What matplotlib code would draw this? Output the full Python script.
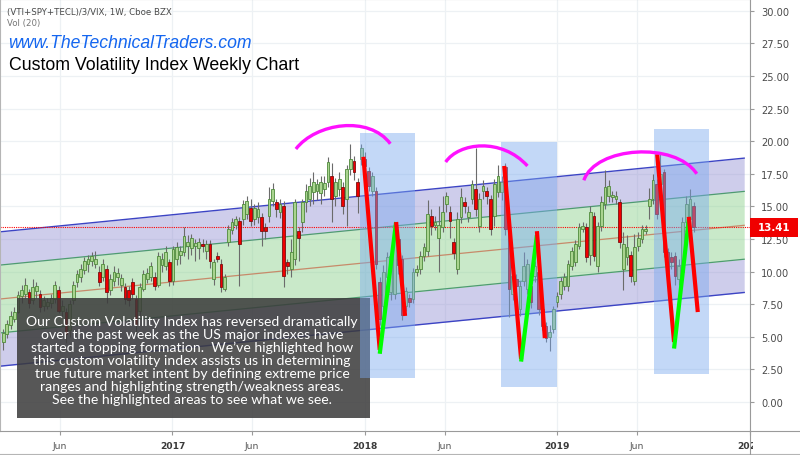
import matplotlib
matplotlib.use("Agg")
import numpy as np
import pandas as pd
import matplotlib.pyplot as plt
import matplotlib.dates as mdates
from matplotlib.patches import Rectangle, PathPatch
from matplotlib.path import Path
from matplotlib.transforms import Bbox, TransformedBbox

# Weekly candles of (VTI+SPY+TECL)/3/VIX
first_week = '2016-02-15'
opens = [4.6, 5.2, 5.9, 6.4, 6.9, 8.1, 8.3, 8.4, 7.8, 8.5,
         8.3, 7.4, 7.4, 7.6, 7.9, 8.6, 7.0, 6.9, 5.5, 7.8,
         9.2, 9.6, 10.1, 10.6, 10.8, 10.6, 10.0, 9.6, 10.2, 8.6,
         9.3, 9.6, 9.0, 8.8, 8.6, 9.2, 7.9, 7.0, 8.7, 9.4,
         9.6, 9.6, 9.0, 10.5, 10.4, 10.7, 9.3, 11.0, 11.3, 11.5,
         12.0, 11.8, 12.0, 11.8, 12.1, 11.6, 12.1, 9.4, 11.2, 10.6,
         8.7, 12.3, 13.2, 13.6, 13.9, 14.0, 14.4, 14.9, 14.0, 14.2,
         14.2, 13.4, 14.3, 15.4, 15.3, 14.6, 15.0, 10.7, 10.2, 11.0,
         13.1, 13.8, 15.3, 15.6, 16.1, 16.2, 16.0, 16.3, 16.9, 17.3,
         15.8, 16.3, 16.5, 15.6, 17.9, 18.5, 16.9, 18.6, 18.6, 17.7,
         16.2, 16.2, 9.2, 7.4, 9.6, 8.4, 8.3, 12.5, 11.0, 7.4,
         8.0, 7.9, 10.0, 10.2, 11.2, 11.6, 14.3, 13.6, 12.6, 13.4,
         15.2, 14.6, 12.3, 10.2, 14.2, 15.3, 14.2, 15.6, 16.3, 13.5,
         16.2, 16.2, 15.6, 14.3, 16.1, 16.1, 18.0, 13.0, 8.3, 9.4,
         7.1, 9.3, 8.7, 8.9, 9.7, 10.0, 7.1, 5.8, 5.0, 5.6,
         7.7, 8.3, 8.9, 8.9, 10.4, 10.7, 12.0, 13.3, 13.4, 11.3,
         14.3, 10.4, 13.5, 15.2, 15.8, 15.7, 15.6, 15.3, 10.2, 11.1,
         11.3, 9.3, 12.0, 12.5, 13.1, 15.0, 15.6, 16.7, 16.7, 17.6,
         11.5, 11.1, 11.2, 9.4, 10.0, 13.8, 14.0, 15.0]
highs = [5.6, 6.3, 7.0, 7.3, 8.5, 9.0, 9.5, 8.7, 9.4, 9.2,
         8.6, 8.1, 8.0, 8.3, 9.3, 8.9, 7.8, 7.2, 7.8, 9.3,
         10.1, 10.6, 11.1, 11.3, 11.5, 11.6, 10.4, 11.0, 10.5, 9.8,
         10.4, 10.3, 9.8, 9.1, 8.9, 9.5, 8.2, 9.1, 10.1, 10.3,
         10.7, 10.0, 11.5, 11.4, 12.0, 11.0, 12.0, 12.3, 12.0, 13.4,
         12.8, 12.9, 12.5, 12.6, 12.5, 12.4, 12.4, 11.0, 11.5, 11.0,
         9.8, 13.6, 14.1, 14.3, 14.2, 15.5, 15.8, 15.6, 15.2, 15.3,
         14.5, 13.7, 16.5, 16.8, 15.6, 15.6, 15.4, 11.0, 12.5, 15.6,
         13.4, 15.6, 16.7, 17.2, 17.6, 17.1, 17.3, 17.3, 18.8, 18.3,
         17.2, 17.6, 16.9, 18.2, 19.8, 18.9, 17.2, 19.8, 19.2, 18.0,
         17.6, 16.5, 9.6, 10.5, 11.5, 11.6, 13.5, 13.0, 11.3, 8.8,
         8.3, 10.3, 10.5, 11.6, 12.2, 15.5, 14.8, 14.3, 15.0, 15.8,
         16.1, 15.0, 12.6, 14.6, 16.4, 15.7, 15.0, 17.0, 19.5, 16.0,
         17.0, 16.5, 15.9, 17.1, 18.2, 17.3, 18.3, 13.3, 10.2, 9.8,
         9.3, 11.5, 11.0, 9.3, 10.8, 10.4, 7.4, 6.1, 5.9, 7.4,
         8.4, 9.6, 9.9, 10.9, 11.9, 12.4, 13.7, 13.8, 13.7, 15.0,
         14.6, 13.8, 15.8, 17.8, 17.0, 16.2, 16.2, 15.6, 13.0, 12.8,
         11.6, 12.9, 13.0, 13.6, 13.6, 16.4, 17.5, 17.1, 19.0, 17.9,
         11.8, 11.5, 11.5, 11.0, 14.2, 15.8, 16.3, 15.3]
lows = [4.0, 4.9, 5.6, 6.1, 6.8, 7.6, 8.0, 7.2, 7.5, 8.0,
        6.9, 7.0, 7.1, 7.2, 7.6, 6.8, 6.5, 4.5, 5.0, 7.5,
        8.8, 9.2, 9.8, 10.0, 10.4, 10.3, 8.9, 9.3, 7.6, 8.2,
        8.9, 9.0, 8.5, 7.5, 7.4, 7.9, 5.2, 6.6, 8.5, 9.1,
        9.3, 8.6, 8.8, 10.0, 10.1, 8.9, 9.0, 10.5, 10.6, 11.2,
        11.0, 11.3, 10.8, 11.0, 11.5, 11.0, 10.3, 9.0, 10.7, 8.4,
        8.5, 12.0, 12.9, 13.3, 8.9, 13.6, 14.0, 13.5, 13.6, 13.7,
        12.0, 12.5, 13.8, 15.0, 14.2, 14.1, 8.8, 9.8, 9.6, 10.5,
        10.8, 13.0, 14.6, 15.0, 15.2, 15.5, 15.2, 15.8, 16.5, 13.8,
        15.0, 15.8, 14.4, 13.5, 17.4, 17.0, 14.5, 18.2, 17.7, 16.2,
        15.8, 10.2, 5.9, 6.8, 9.2, 7.8, 7.9, 9.8, 6.3, 7.0,
        7.3, 7.6, 9.7, 9.8, 10.8, 11.2, 12.8, 13.2, 10.0, 13.0,
        14.6, 12.6, 11.0, 9.8, 13.7, 14.5, 13.8, 15.2, 14.3, 13.0,
        15.6, 15.2, 12.8, 13.5, 15.7, 15.5, 12.8, 6.5, 7.8, 8.3,
        6.6, 8.9, 8.3, 7.2, 9.2, 6.7, 5.5, 4.6, 3.9, 5.3,
        7.3, 7.9, 8.6, 8.5, 10.1, 10.4, 11.7, 13.0, 10.7, 10.5,
        10.8, 10.0, 13.1, 14.8, 15.3, 15.3, 15.2, 11.8, 8.6, 10.5,
        9.2, 9.0, 11.6, 12.2, 12.9, 14.0, 15.2, 14.0, 16.3, 11.1,
        7.9, 10.2, 9.0, 9.0, 9.5, 13.4, 13.5, 13.0]
closes = [5.3, 6.0, 6.6, 6.9, 8.2, 8.6, 9.0, 7.6, 8.8, 8.9,
          7.3, 7.8, 7.7, 8.0, 9.0, 7.0, 7.4, 5.2, 7.5, 9.0,
          9.8, 10.2, 10.8, 11.0, 11.2, 11.0, 9.2, 10.6, 8.4, 9.4,
          10.0, 9.9, 9.5, 7.9, 7.8, 8.3, 5.9, 8.8, 9.8, 9.9,
          10.4, 8.9, 11.2, 11.0, 11.5, 9.3, 11.7, 11.9, 11.6, 12.7,
          12.3, 12.6, 12.2, 12.3, 12.0, 12.1, 10.8, 10.7, 11.0, 8.8,
          9.6, 13.3, 13.8, 14.0, 12.1, 15.2, 15.4, 13.9, 14.9, 14.8,
          13.1, 13.1, 15.6, 16.3, 14.8, 15.2, 9.7, 10.4, 11.5, 15.3,
          12.6, 15.3, 16.2, 16.6, 16.9, 16.7, 16.9, 16.8, 18.4, 15.6,
          16.9, 17.1, 15.0, 17.9, 18.6, 17.6, 15.8, 19.5, 18.1, 16.6,
          17.3, 10.6, 6.4, 10.0, 11.1, 11.2, 13.0, 10.5, 6.7, 8.5,
          7.7, 10.0, 10.2, 11.2, 11.9, 14.4, 13.5, 13.8, 13.6, 14.6,
          15.8, 13.9, 11.4, 14.0, 15.7, 15.0, 14.6, 16.7, 14.8, 15.6,
          16.6, 15.8, 13.3, 16.7, 17.3, 16.9, 13.3, 8.7, 9.7, 8.9,
          8.9, 10.4, 10.6, 7.7, 10.4, 7.1, 5.8, 4.9, 5.4, 7.1,
          8.1, 9.3, 9.6, 10.6, 11.6, 12.1, 13.4, 13.5, 11.1, 14.6,
          11.2, 13.5, 15.3, 16.5, 16.6, 15.9, 15.8, 12.3, 12.1, 11.9,
          9.7, 11.9, 12.6, 13.3, 13.3, 15.6, 17.0, 14.4, 17.5, 11.5,
          10.0, 10.7, 9.7, 10.4, 13.8, 15.2, 15.6, 13.41]
last_price = 13.41

# Regression channel: centre line at both chart edges, band offsets
channel_dates = ['2016-02-09', '2019-12-21']
channel_mid = [7.9, 13.55]
inner_offset = 2.6
outer_offset = 5.15

# Highlighted reversal areas (start, end, low, high)
zones = [('2017-12-23', '2018-04-06', 1.84, 20.6),
         ('2018-09-16', '2018-12-31', 1.15, 19.9),
         ('2019-07-03', '2019-10-15', 2.15, 20.9)]

# Hand drawn swings: (dates, values, colour)
swings = [(['2017-12-29', '2018-01-29'], [18.8, 4.0], 'red'),
          (['2018-01-29', '2018-03-01'], [3.7, 13.8], 'lime'),
          (['2018-03-01', '2018-03-18'], [13.8, 6.6], 'red'),
          (['2018-09-22', '2018-10-24'], [18.1, 3.3], 'red'),
          (['2018-10-24', '2018-11-23'], [3.1, 12.8], 'lime'),
          (['2018-11-23', '2018-12-08'], [13.1, 4.9], 'red'),
          (['2019-07-09', '2019-08-10'], [19.0, 4.6], 'red'),
          (['2019-08-10', '2019-09-07'], [4.1, 14.0], 'lime'),
          (['2019-09-07', '2019-09-24'], [14.2, 6.9], 'red')]

# Topping arcs as cubic bezier control points
arcs = [(['2017-08-23', '2017-09-30', '2018-01-09', '2018-02-18'], [19.4, 21.4, 22.0, 19.8]),
        (['2018-06-03', '2018-06-28', '2018-09-17', '2018-11-05'], [18.4, 19.9, 20.3, 18.1]),
        (['2019-02-20', '2019-03-14', '2019-08-12', '2019-09-22'], [17.0, 19.6, 20.0, 17.5])]

tick_dates = ['2016-06-01', '2017-01-01', '2017-06-01', '2018-01-01',
              '2018-06-01', '2019-01-01', '2019-06-01', '2020-01-01']
tick_labels = ['Jun', '2017', 'Jun', '2018', 'Jun', '2019', 'Jun', '2020']

note = ("Our Custom Volatility Index has reversed dramatically\n"
        "over the past week as the US major indexes have\n"
        "started a topping formation.  We\u2019ve highlighted how\n"
        "this custom volatility index assists us in determining\n"
        "true future market intent by defining extreme price\n"
        "ranges and highlighting strength/weakness areas.\n"
        "See the highlighted areas to see what we see.")


def dnum(values):
    return mdates.date2num(pd.to_datetime(values))


fig = plt.figure(figsize=(8, 4.56), dpi=100)
ax = fig.add_axes([0.0, 24 / 456, 750 / 800, 432 / 456])
ax.set_facecolor('white')

x0, x1 = dnum(channel_dates)
ax.set_xlim(x0, x1)
ax.set_ylim(-2.22, 30.9)

# grid
yticks = np.arange(0, 30.01, 2.5)
for v in yticks:
    ax.axhline(v, color='#edf1f4', lw=0.9, zorder=0)
for d in dnum(tick_dates):
    ax.axvline(d, color='#edf1f4', lw=0.9, zorder=0)

# channel bands
cx = np.array([x0, x1])
mid = np.array(channel_mid)
ax.fill_between(cx, mid + inner_offset, mid + outer_offset, color='#8c88d0', alpha=0.42, lw=0, zorder=1)
ax.fill_between(cx, mid - outer_offset, mid - inner_offset, color='#8c88d0', alpha=0.42, lw=0, zorder=1)
ax.fill_between(cx, mid - inner_offset, mid + inner_offset, color='#88d088', alpha=0.45, lw=0, zorder=1)
ax.plot(cx, mid + outer_offset, color='#3c44c4', lw=1.0, zorder=2)
ax.plot(cx, mid - outer_offset, color='#3c44c4', lw=1.0, zorder=2)
ax.plot(cx, mid + inner_offset, color='#4e9c70', lw=0.9, zorder=2)
ax.plot(cx, mid - inner_offset, color='#4e9c70', lw=0.9, zorder=2)
ax.plot(cx, mid, color='#c78a6a', lw=0.9, zorder=2)

# last price line
ax.axhline(last_price, color='red', lw=0.8, ls=(0, (1, 1)), zorder=2)

# candles
weeks = pd.date_range(first_week, periods=len(closes), freq='7D')
xs = mdates.date2num(weeks)
o = np.array(opens)
c = np.array(closes)
up = c >= o
ax.vlines(xs, lows, highs, color='#6b6b6b', lw=0.8, zorder=3)
body_bottom = np.minimum(o, c)
body_h = np.maximum(np.abs(c - o), 0.15)
ax.bar(xs[up], body_h[up], bottom=body_bottom[up], width=5.2,
       color='#a9d48f', edgecolor='#4f8a3b', lw=0.6, zorder=3)
ax.bar(xs[~up], body_h[~up], bottom=body_bottom[~up], width=5.2,
       color='#f00000', edgecolor='#7a1010', lw=0.6, zorder=3)

# text box
ax.add_patch(Rectangle((17 / 750, 13 / 432), 353 / 750, 120 / 432, transform=ax.transAxes,
                       facecolor='#3a3a3a', alpha=0.85, lw=0, zorder=4))
ax.text(192 / 750, 71 / 432, note, transform=ax.transAxes, ha='center', va='center',
        color='white', fontsize=10.1, family='Lato', linespacing=1.1, zorder=8)

# highlighted zones
for start, end, lo, hi in zones:
    s, e = dnum([start, end])
    ax.add_patch(Rectangle((s, lo), e - s, hi - lo, facecolor='#7aa9ef', alpha=0.45,
                           lw=0, zorder=5))

# swing lines
for dates, vals, col in swings:
    ax.plot(dnum(dates), vals, color=col, lw=3.0, solid_capstyle='butt', zorder=6)

# topping arcs
for dates, vals in arcs:
    verts = list(zip(dnum(dates), vals))
    path = Path(verts, [Path.MOVETO, Path.CURVE4, Path.CURVE4, Path.CURVE4])
    ax.add_patch(PathPatch(path, facecolor='none', edgecolor='#ff10ff', lw=2.4, zorder=6))

# axes styling
for side in ['left', 'top']:
    ax.spines[side].set_color('#b5b5b5')
ax.spines['right'].set_color('#9a9a9a')
ax.spines['bottom'].set_color('#9a9a9a')
ax.yaxis.tick_right()
ax.set_yticks(yticks)
ax.set_yticklabels(['%.2f' % v for v in yticks])
ax.tick_params(axis='y', colors='#9a9a9a', labelcolor='#4a4a4a', labelsize=7.1,
               length=3, width=0.8, pad=5)
ax.set_xticks(dnum(tick_dates))
ax.set_xticklabels(tick_labels)
ax.tick_params(axis='x', colors='#9a9a9a', labelcolor='#555555', labelsize=6.6,
               length=3, width=0.8, pad=4)
clip = TransformedBbox(Bbox([[0, 0], [753 / 800, 1]]), fig.transFigure)
for lab in ax.get_xticklabels():
    if lab.get_text()[0].isdigit():
        lab.set_fontweight('bold')
        lab.set_color('#3a3a3a')
    lab.set_clip_on(True)
    lab.set_clip_box(clip)

# last price tag on the scale
ytr = ax.get_yaxis_transform()
ax.add_patch(Rectangle((1.0, last_price - 0.73), 48 / 750, 1.46, transform=ytr,
                       facecolor='#f00000', lw=0, zorder=10, clip_on=False))
ax.text(1.0 + 24 / 750, last_price, '%.2f' % last_price, transform=ytr,
        ha='center', va='center', color='white', fontsize=7.4, fontweight='bold',
        zorder=11, clip_on=False)

# frame lines outside the chart area
fig.add_artist(plt.Line2D([750 / 800, 1], [24 / 456, 24 / 456], color='#9a9a9a', lw=0.8))
fig.add_artist(plt.Line2D([0, 1], [1.5 / 456, 1.5 / 456], color='#b5b5b5', lw=0.8))
fig.add_artist(plt.Line2D([750 / 800, 750 / 800], [0, 24 / 456], color='#9a9a9a', lw=0.8))

# headings
fig.text(7 / 800, 1 - 13 / 456, '(VTI+SPY+TECL)/3/VIX, 1W, Cboe BZX', fontsize=6.2,
         color='#4a4a4a', va='center', family='DejaVu Sans')
fig.text(7 / 800, 1 - 24 / 456, 'Vol (20)', fontsize=6.2, color='#777777', va='center')
fig.text(8 / 800, 1 - 44 / 456, 'www.TheTechnicalTraders.com', fontsize=12.7, style='italic',
         color='#1466f0', va='center', family='Liberation Sans')
fig.text(9 / 800, 1 - 66 / 456, 'Custom Volatility Index Weekly Chart', fontsize=12.8,
         color='black', va='center', family='Liberation Sans')

fig.savefig('out.png', dpi=100)
